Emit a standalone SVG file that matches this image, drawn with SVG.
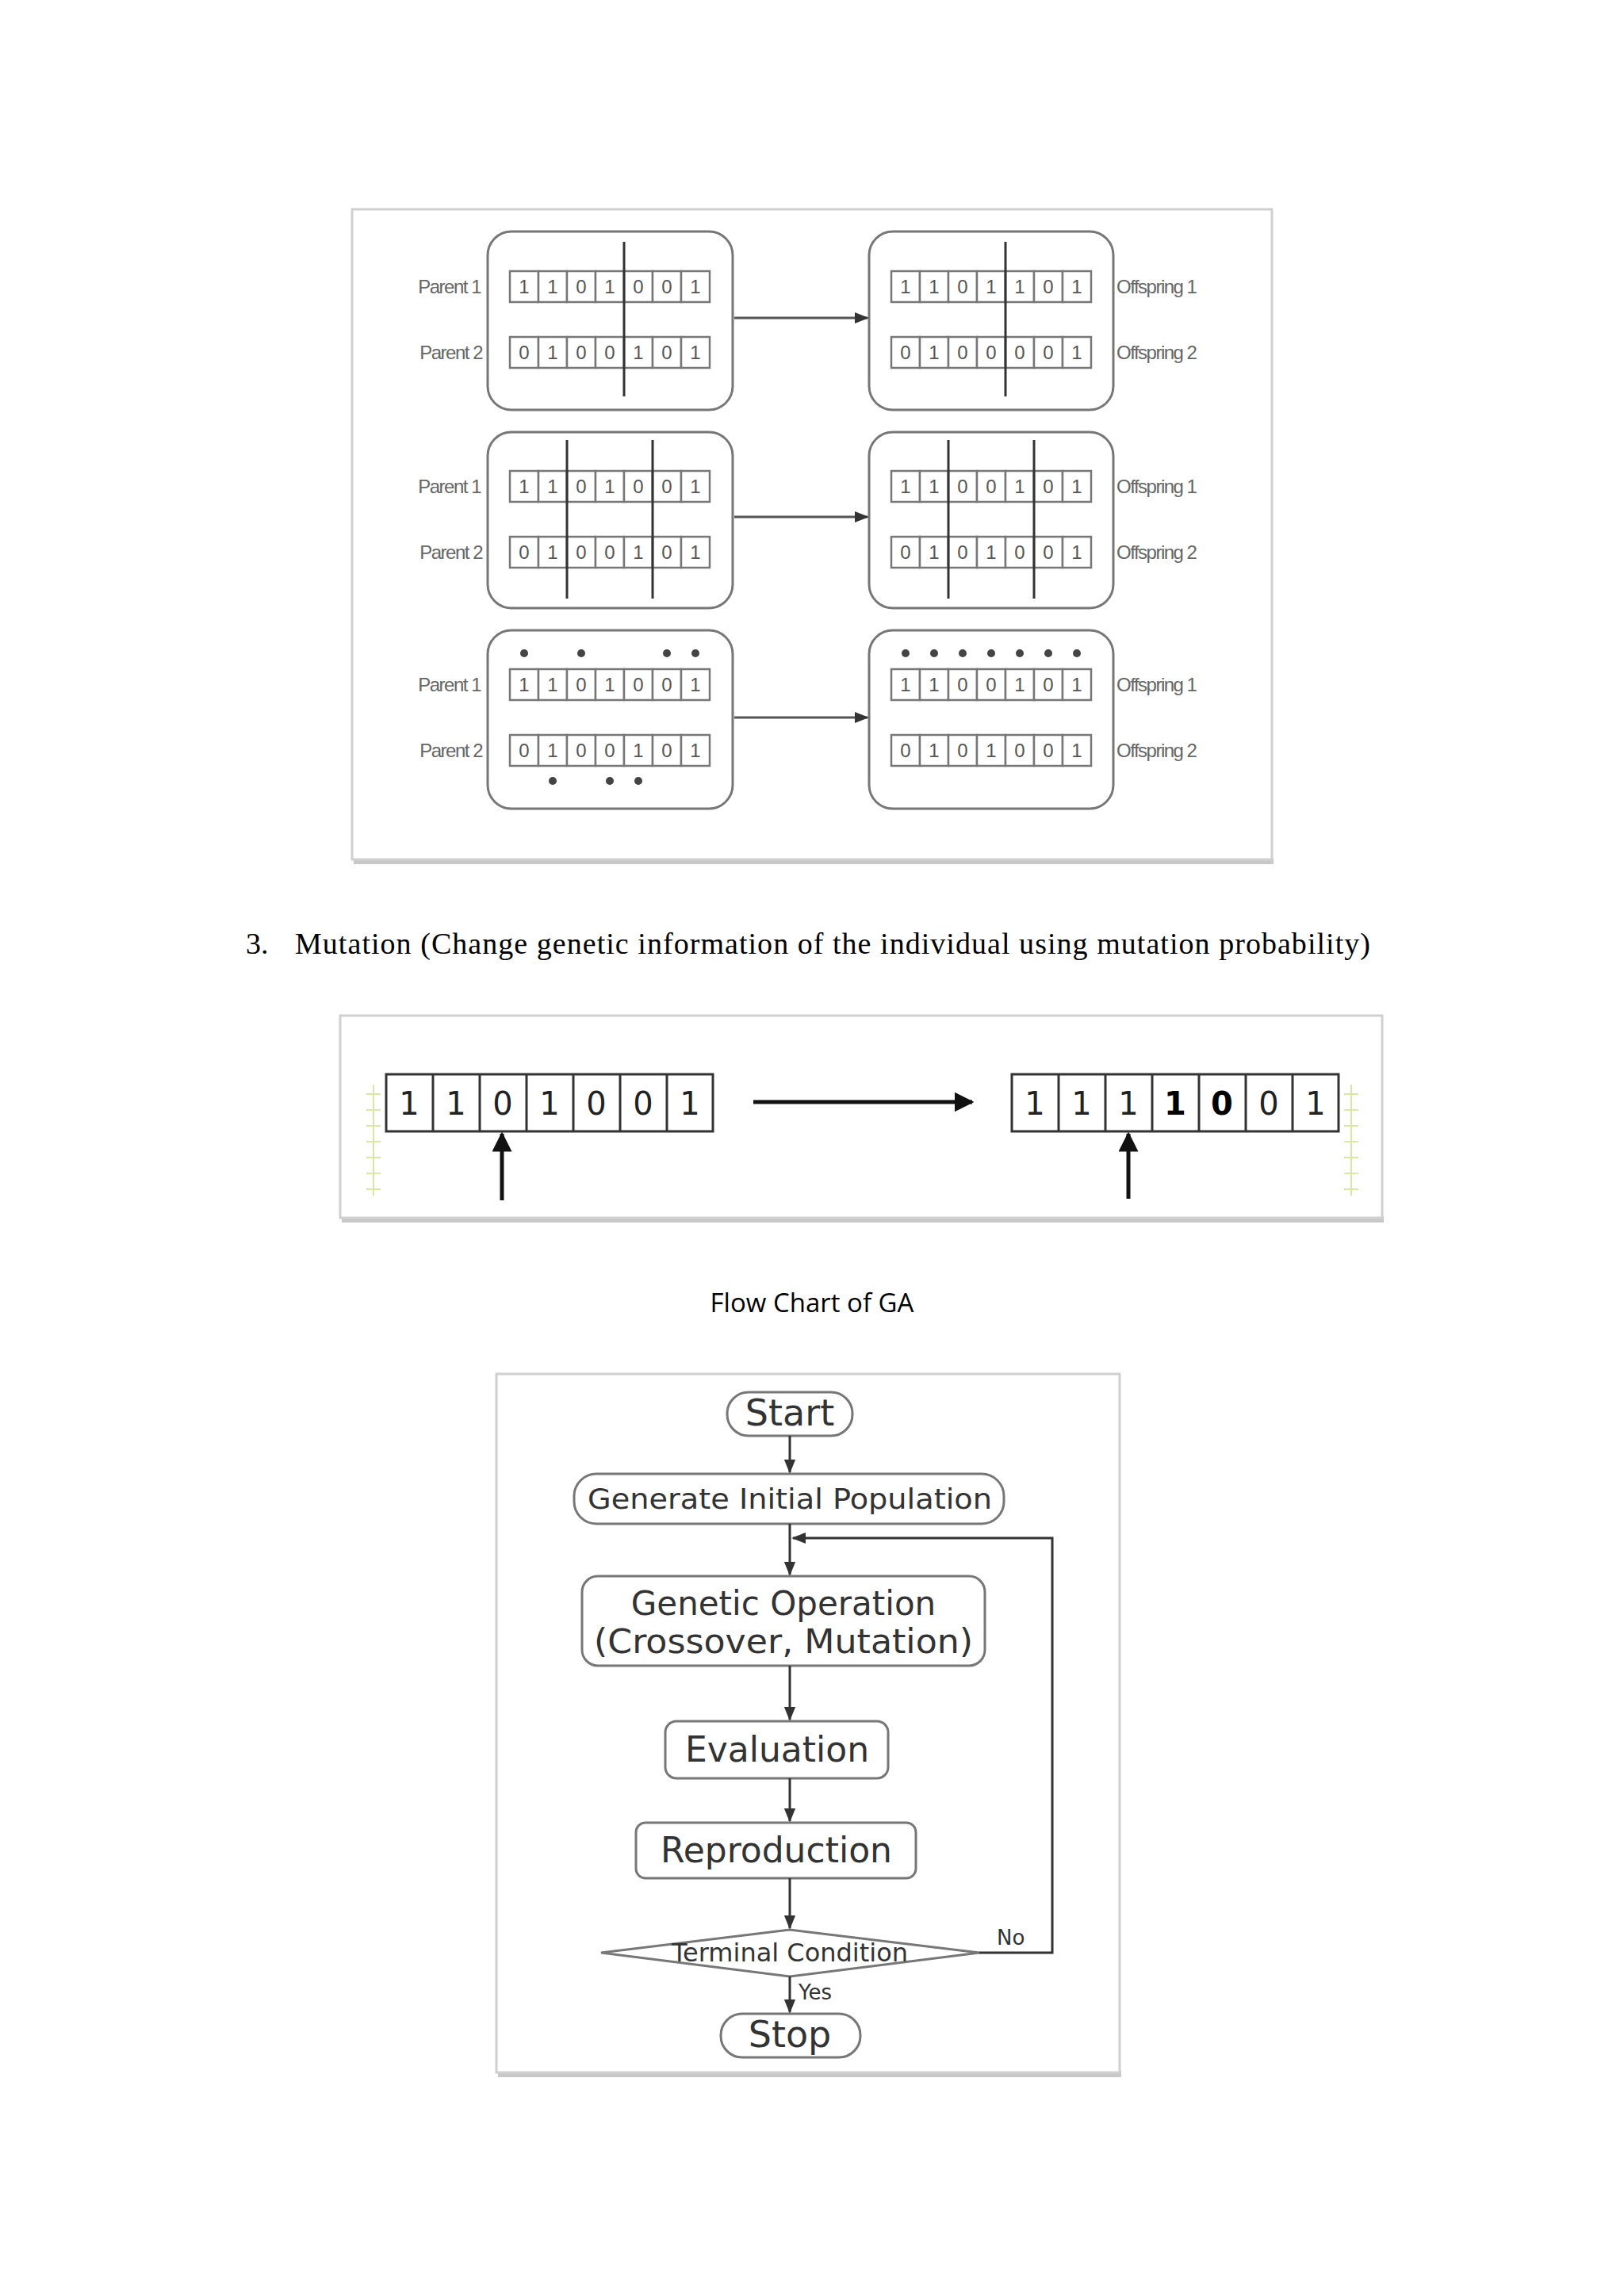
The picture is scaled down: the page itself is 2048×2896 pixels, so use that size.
<svg xmlns="http://www.w3.org/2000/svg" width="2048" height="2896" viewBox="0 0 2048 2896">
<defs>
<style>
.frame{fill:#fff;stroke:#d0d0d0;stroke-width:3}
.shadow{fill:#c8c8c8}
.box{fill:#fff;stroke:#777;stroke-width:3}
.cell{fill:#fff;stroke:#777;stroke-width:2.5}
.bit{font-family:"Liberation Sans",sans-serif;font-size:24px;fill:#555;text-anchor:middle}
.lbl{font-family:"Liberation Sans Narrow","Liberation Sans",sans-serif;font-size:24px;fill:#666;letter-spacing:-1.5px}
.cut{stroke:#333;stroke-width:3}
.dot{fill:#444}
.con{stroke:#555;stroke-width:3;fill:none}
.mbit{font-family:"DejaVu Sans",sans-serif;font-size:40px;fill:#222;text-anchor:middle}
.fc{font-family:"DejaVu Sans",sans-serif;fill:#333;text-anchor:middle}
.fbox{fill:#fff;stroke:#777;stroke-width:3}
.fl{stroke:#333;stroke-width:3;fill:none}
.tick{stroke:#d8e8a0;stroke-width:2}
</style>
<marker id="ah" viewBox="0 0 10 10" refX="9" refY="5" markerWidth="6" markerHeight="6" orient="auto"><path d="M0,1 L10,5 L0,9 Z" fill="#333"/></marker>
<marker id="ahb" viewBox="0 0 10 10" refX="9" refY="5" markerWidth="5" markerHeight="5" orient="auto"><path d="M0,0 L10,5 L0,10 Z" fill="#111"/></marker>
</defs>
<rect width="2048" height="2896" fill="#fff"/>

<!-- Crossover frame -->
<g id="crossover">
<rect class="shadow" x="446" y="1082" width="1160" height="8"/>
<rect class="frame" x="444" y="264" width="1160" height="820"/>

<g id="row1">
<rect class="box" x="615" y="292" width="309" height="225" rx="30"/>
<rect class="box" x="1096" y="292" width="308" height="225" rx="30"/>
<text class="lbl" x="606" y="370" text-anchor="end">Parent 1</text>
<text class="lbl" x="608" y="453" text-anchor="end">Parent 2</text>
<text class="lbl" x="1408" y="370">Offspring 1</text>
<text class="lbl" x="1408" y="453">Offspring 2</text>
</g>
<g id="row2">
<rect class="box" x="615" y="545" width="309" height="222" rx="30"/>
<rect class="box" x="1096" y="545" width="308" height="222" rx="30"/>
<text class="lbl" x="606" y="622" text-anchor="end">Parent 1</text>
<text class="lbl" x="608" y="705" text-anchor="end">Parent 2</text>
<text class="lbl" x="1408" y="622">Offspring 1</text>
<text class="lbl" x="1408" y="705">Offspring 2</text>
</g>
<g id="row3">
<rect class="box" x="615" y="795" width="309" height="225" rx="30"/>
<rect class="box" x="1096" y="795" width="308" height="225" rx="30"/>
<text class="lbl" x="606" y="872" text-anchor="end">Parent 1</text>
<text class="lbl" x="608" y="955" text-anchor="end">Parent 2</text>
<text class="lbl" x="1408" y="872">Offspring 1</text>
<text class="lbl" x="1408" y="955">Offspring 2</text>
</g>

<g id="strings">
<!-- row1 -->
<g transform="translate(643,342)"><rect class="cell" x="0" y="0" width="36" height="39"/><rect class="cell" x="36" y="0" width="36" height="39"/><rect class="cell" x="72" y="0" width="36" height="39"/><rect class="cell" x="108" y="0" width="36" height="39"/><rect class="cell" x="144" y="0" width="36" height="39"/><rect class="cell" x="180" y="0" width="36" height="39"/><rect class="cell" x="216" y="0" width="36" height="39"/><text class="bit" y="28"><tspan x="18">1</tspan><tspan x="54">1</tspan><tspan x="90">0</tspan><tspan x="126">1</tspan><tspan x="162">0</tspan><tspan x="198">0</tspan><tspan x="234">1</tspan></text></g>
<g transform="translate(643,425)"><rect class="cell" x="0" y="0" width="36" height="39"/><rect class="cell" x="36" y="0" width="36" height="39"/><rect class="cell" x="72" y="0" width="36" height="39"/><rect class="cell" x="108" y="0" width="36" height="39"/><rect class="cell" x="144" y="0" width="36" height="39"/><rect class="cell" x="180" y="0" width="36" height="39"/><rect class="cell" x="216" y="0" width="36" height="39"/><text class="bit" y="28"><tspan x="18">0</tspan><tspan x="54">1</tspan><tspan x="90">0</tspan><tspan x="126">0</tspan><tspan x="162">1</tspan><tspan x="198">0</tspan><tspan x="234">1</tspan></text></g>
<g transform="translate(1124,342)"><rect class="cell" x="0" y="0" width="36" height="39"/><rect class="cell" x="36" y="0" width="36" height="39"/><rect class="cell" x="72" y="0" width="36" height="39"/><rect class="cell" x="108" y="0" width="36" height="39"/><rect class="cell" x="144" y="0" width="36" height="39"/><rect class="cell" x="180" y="0" width="36" height="39"/><rect class="cell" x="216" y="0" width="36" height="39"/><text class="bit" y="28"><tspan x="18">1</tspan><tspan x="54">1</tspan><tspan x="90">0</tspan><tspan x="126">1</tspan><tspan x="162">1</tspan><tspan x="198">0</tspan><tspan x="234">1</tspan></text></g>
<g transform="translate(1124,425)"><rect class="cell" x="0" y="0" width="36" height="39"/><rect class="cell" x="36" y="0" width="36" height="39"/><rect class="cell" x="72" y="0" width="36" height="39"/><rect class="cell" x="108" y="0" width="36" height="39"/><rect class="cell" x="144" y="0" width="36" height="39"/><rect class="cell" x="180" y="0" width="36" height="39"/><rect class="cell" x="216" y="0" width="36" height="39"/><text class="bit" y="28"><tspan x="18">0</tspan><tspan x="54">1</tspan><tspan x="90">0</tspan><tspan x="126">0</tspan><tspan x="162">0</tspan><tspan x="198">0</tspan><tspan x="234">1</tspan></text></g>
<!-- row2 -->
<g transform="translate(643,594)"><rect class="cell" x="0" y="0" width="36" height="39"/><rect class="cell" x="36" y="0" width="36" height="39"/><rect class="cell" x="72" y="0" width="36" height="39"/><rect class="cell" x="108" y="0" width="36" height="39"/><rect class="cell" x="144" y="0" width="36" height="39"/><rect class="cell" x="180" y="0" width="36" height="39"/><rect class="cell" x="216" y="0" width="36" height="39"/><text class="bit" y="28"><tspan x="18">1</tspan><tspan x="54">1</tspan><tspan x="90">0</tspan><tspan x="126">1</tspan><tspan x="162">0</tspan><tspan x="198">0</tspan><tspan x="234">1</tspan></text></g>
<g transform="translate(643,677)"><rect class="cell" x="0" y="0" width="36" height="39"/><rect class="cell" x="36" y="0" width="36" height="39"/><rect class="cell" x="72" y="0" width="36" height="39"/><rect class="cell" x="108" y="0" width="36" height="39"/><rect class="cell" x="144" y="0" width="36" height="39"/><rect class="cell" x="180" y="0" width="36" height="39"/><rect class="cell" x="216" y="0" width="36" height="39"/><text class="bit" y="28"><tspan x="18">0</tspan><tspan x="54">1</tspan><tspan x="90">0</tspan><tspan x="126">0</tspan><tspan x="162">1</tspan><tspan x="198">0</tspan><tspan x="234">1</tspan></text></g>
<g transform="translate(1124,594)"><rect class="cell" x="0" y="0" width="36" height="39"/><rect class="cell" x="36" y="0" width="36" height="39"/><rect class="cell" x="72" y="0" width="36" height="39"/><rect class="cell" x="108" y="0" width="36" height="39"/><rect class="cell" x="144" y="0" width="36" height="39"/><rect class="cell" x="180" y="0" width="36" height="39"/><rect class="cell" x="216" y="0" width="36" height="39"/><text class="bit" y="28"><tspan x="18">1</tspan><tspan x="54">1</tspan><tspan x="90">0</tspan><tspan x="126">0</tspan><tspan x="162">1</tspan><tspan x="198">0</tspan><tspan x="234">1</tspan></text></g>
<g transform="translate(1124,677)"><rect class="cell" x="0" y="0" width="36" height="39"/><rect class="cell" x="36" y="0" width="36" height="39"/><rect class="cell" x="72" y="0" width="36" height="39"/><rect class="cell" x="108" y="0" width="36" height="39"/><rect class="cell" x="144" y="0" width="36" height="39"/><rect class="cell" x="180" y="0" width="36" height="39"/><rect class="cell" x="216" y="0" width="36" height="39"/><text class="bit" y="28"><tspan x="18">0</tspan><tspan x="54">1</tspan><tspan x="90">0</tspan><tspan x="126">1</tspan><tspan x="162">0</tspan><tspan x="198">0</tspan><tspan x="234">1</tspan></text></g>
<!-- row3 -->
<g transform="translate(643,844)"><rect class="cell" x="0" y="0" width="36" height="39"/><rect class="cell" x="36" y="0" width="36" height="39"/><rect class="cell" x="72" y="0" width="36" height="39"/><rect class="cell" x="108" y="0" width="36" height="39"/><rect class="cell" x="144" y="0" width="36" height="39"/><rect class="cell" x="180" y="0" width="36" height="39"/><rect class="cell" x="216" y="0" width="36" height="39"/><text class="bit" y="28"><tspan x="18">1</tspan><tspan x="54">1</tspan><tspan x="90">0</tspan><tspan x="126">1</tspan><tspan x="162">0</tspan><tspan x="198">0</tspan><tspan x="234">1</tspan></text></g>
<g transform="translate(643,927)"><rect class="cell" x="0" y="0" width="36" height="39"/><rect class="cell" x="36" y="0" width="36" height="39"/><rect class="cell" x="72" y="0" width="36" height="39"/><rect class="cell" x="108" y="0" width="36" height="39"/><rect class="cell" x="144" y="0" width="36" height="39"/><rect class="cell" x="180" y="0" width="36" height="39"/><rect class="cell" x="216" y="0" width="36" height="39"/><text class="bit" y="28"><tspan x="18">0</tspan><tspan x="54">1</tspan><tspan x="90">0</tspan><tspan x="126">0</tspan><tspan x="162">1</tspan><tspan x="198">0</tspan><tspan x="234">1</tspan></text></g>
<g transform="translate(1124,844)"><rect class="cell" x="0" y="0" width="36" height="39"/><rect class="cell" x="36" y="0" width="36" height="39"/><rect class="cell" x="72" y="0" width="36" height="39"/><rect class="cell" x="108" y="0" width="36" height="39"/><rect class="cell" x="144" y="0" width="36" height="39"/><rect class="cell" x="180" y="0" width="36" height="39"/><rect class="cell" x="216" y="0" width="36" height="39"/><text class="bit" y="28"><tspan x="18">1</tspan><tspan x="54">1</tspan><tspan x="90">0</tspan><tspan x="126">0</tspan><tspan x="162">1</tspan><tspan x="198">0</tspan><tspan x="234">1</tspan></text></g>
<g transform="translate(1124,927)"><rect class="cell" x="0" y="0" width="36" height="39"/><rect class="cell" x="36" y="0" width="36" height="39"/><rect class="cell" x="72" y="0" width="36" height="39"/><rect class="cell" x="108" y="0" width="36" height="39"/><rect class="cell" x="144" y="0" width="36" height="39"/><rect class="cell" x="180" y="0" width="36" height="39"/><rect class="cell" x="216" y="0" width="36" height="39"/><text class="bit" y="28"><tspan x="18">0</tspan><tspan x="54">1</tspan><tspan x="90">0</tspan><tspan x="126">1</tspan><tspan x="162">0</tspan><tspan x="198">0</tspan><tspan x="234">1</tspan></text></g>
</g>

<g id="cuts">
<line class="cut" x1="787" y1="305" x2="787" y2="500"/>
<line class="cut" x1="1268" y1="305" x2="1268" y2="500"/>
<line class="cut" x1="715" y1="555" x2="715" y2="755"/>
<line class="cut" x1="823" y1="555" x2="823" y2="755"/>
<line class="cut" x1="1196" y1="555" x2="1196" y2="755"/>
<line class="cut" x1="1304" y1="555" x2="1304" y2="755"/>
</g>
<g id="dots">
<circle class="dot" cx="661" cy="824" r="5"/><circle class="dot" cx="733" cy="824" r="5"/><circle class="dot" cx="841" cy="824" r="5"/><circle class="dot" cx="877" cy="824" r="5"/>
<circle class="dot" cx="697" cy="985" r="5"/><circle class="dot" cx="769" cy="985" r="5"/><circle class="dot" cx="805" cy="985" r="5"/>
<circle class="dot" cx="1142" cy="824" r="5"/><circle class="dot" cx="1178" cy="824" r="5"/><circle class="dot" cx="1214" cy="824" r="5"/><circle class="dot" cx="1250" cy="824" r="5"/><circle class="dot" cx="1286" cy="824" r="5"/><circle class="dot" cx="1322" cy="824" r="5"/><circle class="dot" cx="1358" cy="824" r="5"/>
</g>
<g id="crossover-connectors">
<line class="con" x1="926" y1="401" x2="1094" y2="401" marker-end="url(#ah)"/>
<line class="con" x1="926" y1="652" x2="1094" y2="652" marker-end="url(#ah)"/>
<line class="con" x1="926" y1="905" x2="1094" y2="905" marker-end="url(#ah)"/>
</g>
</g>

<text x="310" y="1203" font-family="Liberation Serif, serif" font-size="38" fill="#000">3.</text>
<text x="372" y="1203" font-family="Liberation Serif, serif" font-size="38" fill="#000" textLength="1356" lengthAdjust="spacing">Mutation (Change genetic information of the individual using mutation probability)</text>

<!-- Mutation frame -->
<g id="mutation">
<rect class="shadow" x="431" y="1534" width="1314" height="8"/>
<rect class="frame" x="429" y="1281" width="1314" height="255"/>
<g id="ticks">
<line class="tick" x1="471" y1="1368" x2="471" y2="1508"/>
<line class="tick" x1="462" y1="1380" x2="480" y2="1380"/><line class="tick" x1="462" y1="1400" x2="480" y2="1400"/><line class="tick" x1="462" y1="1420" x2="480" y2="1420"/><line class="tick" x1="462" y1="1440" x2="480" y2="1440"/><line class="tick" x1="462" y1="1460" x2="480" y2="1460"/><line class="tick" x1="462" y1="1480" x2="480" y2="1480"/><line class="tick" x1="462" y1="1500" x2="480" y2="1500"/>
<line class="tick" x1="1704" y1="1368" x2="1704" y2="1508"/>
<line class="tick" x1="1695" y1="1380" x2="1713" y2="1380"/><line class="tick" x1="1695" y1="1400" x2="1713" y2="1400"/><line class="tick" x1="1695" y1="1420" x2="1713" y2="1420"/><line class="tick" x1="1695" y1="1440" x2="1713" y2="1440"/><line class="tick" x1="1695" y1="1460" x2="1713" y2="1460"/><line class="tick" x1="1695" y1="1480" x2="1713" y2="1480"/><line class="tick" x1="1695" y1="1500" x2="1713" y2="1500"/>
</g>
<g id="m-left" transform="translate(487,1355)">
<rect x="0" y="0" width="412" height="72" fill="#fff" stroke="#333" stroke-width="3"/>
<g stroke="#333" stroke-width="3"><line x1="59" y1="0" x2="59" y2="72"/><line x1="118" y1="0" x2="118" y2="72"/><line x1="177" y1="0" x2="177" y2="72"/><line x1="236" y1="0" x2="236" y2="72"/><line x1="295" y1="0" x2="295" y2="72"/><line x1="354" y1="0" x2="354" y2="72"/></g>
<text class="mbit" y="51"><tspan x="29">1</tspan><tspan x="88">1</tspan><tspan x="147">0</tspan><tspan x="206">1</tspan><tspan x="265">0</tspan><tspan x="324">0</tspan><tspan x="383">1</tspan></text>
</g>
<g id="m-right" transform="translate(1276,1355)">
<rect x="0" y="0" width="412" height="72" fill="#fff" stroke="#333" stroke-width="3"/>
<g stroke="#333" stroke-width="3"><line x1="59" y1="0" x2="59" y2="72"/><line x1="118" y1="0" x2="118" y2="72"/><line x1="177" y1="0" x2="177" y2="72"/><line x1="236" y1="0" x2="236" y2="72"/><line x1="295" y1="0" x2="295" y2="72"/><line x1="354" y1="0" x2="354" y2="72"/></g>
<text class="mbit" y="51"><tspan x="29">1</tspan><tspan x="88">1</tspan><tspan x="147">1</tspan><tspan x="206" font-weight="bold" fill="#000">1</tspan><tspan x="265" font-weight="bold" fill="#000">0</tspan><tspan x="324">0</tspan><tspan x="383">1</tspan></text>
</g>
<g id="mutation-connectors">
<line x1="950" y1="1390" x2="1226" y2="1390" stroke="#111" stroke-width="5" marker-end="url(#ahb)"/>
<line x1="633" y1="1514" x2="633" y2="1430" stroke="#111" stroke-width="5" marker-end="url(#ahb)"/>
<line x1="1423" y1="1512" x2="1423" y2="1430" stroke="#111" stroke-width="5" marker-end="url(#ahb)"/>
</g>
</g>

<text x="1024" y="1655" font-family="Open Sans, Liberation Sans, sans-serif" font-size="33" fill="#000" text-anchor="middle">Flow Chart of GA</text>

<!-- Flowchart -->
<rect class="shadow" x="628" y="2612" width="786" height="8"/>
<rect class="frame" x="626" y="1733" width="786" height="881"/>

<g id="start"><rect class="fbox" x="917" y="1756" width="158" height="55" rx="27"/><text class="fc" x="996" y="1798" font-size="46">Start</text></g>
<g id="generate"><rect class="fbox" x="724" y="1859" width="542" height="63" rx="28"/><text class="fc" x="996" y="1903" font-size="36" fill="#555" textLength="510" lengthAdjust="spacingAndGlyphs">Generate Initial Population</text></g>
<g id="genetic"><rect class="fbox" x="734" y="1988" width="508" height="113" rx="20"/><text class="fc" x="988" y="2037" font-size="42">Genetic Operation</text><text class="fc" x="988" y="2085" font-size="42" textLength="478" lengthAdjust="spacingAndGlyphs">(Crossover, Mutation)</text></g>
<g id="evaluation"><rect class="fbox" x="839" y="2171" width="281" height="72" rx="14"/><text class="fc" x="980" y="2222" font-size="44">Evaluation</text></g>
<g id="reproduction"><rect class="fbox" x="802" y="2299" width="353" height="70" rx="12"/><text class="fc" x="979" y="2349" font-size="44">Reproduction</text></g>
<g id="terminal"><polygon points="758,2463 996,2434 1235,2463 996,2493" fill="#fff" stroke="#777" stroke-width="3"/><text class="fc" x="996" y="2474" font-size="32" fill="#666">Terminal Condition</text></g>
<g id="stop"><rect class="fbox" x="909" y="2540" width="176" height="55" rx="27"/><text class="fc" x="996" y="2582" font-size="46">Stop</text></g>

<g id="connectors">
<line class="fl" x1="996" y1="1811" x2="996" y2="1857" marker-end="url(#ah)"/>
<line class="fl" x1="996" y1="1922" x2="996" y2="1986" marker-end="url(#ah)"/>
<line class="fl" x1="996" y1="2101" x2="996" y2="2169" marker-end="url(#ah)"/>
<line class="fl" x1="996" y1="2243" x2="996" y2="2297" marker-end="url(#ah)"/>
<line class="fl" x1="996" y1="2369" x2="996" y2="2432" marker-end="url(#ah)"/>
<line class="fl" x1="996" y1="2493" x2="996" y2="2538" marker-end="url(#ah)"/>
<polyline class="fl" points="1235,2463 1327,2463 1327,1940 1000,1940" marker-end="url(#ah)"/>
<text x="1257" y="2453" font-family="DejaVu Sans, sans-serif" font-size="26" fill="#333">No</text>
<text x="1007" y="2522" font-family="DejaVu Sans, sans-serif" font-size="26" fill="#333">Yes</text>
</g>
</svg>
